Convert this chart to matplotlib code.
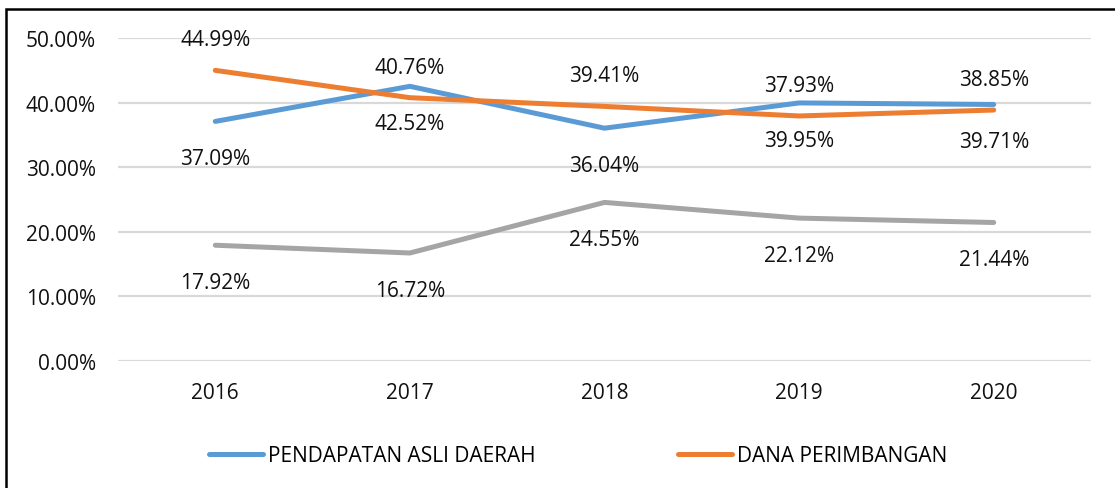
import matplotlib.pyplot as plt
from matplotlib.patches import Rectangle
from matplotlib.ticker import FixedLocator, PercentFormatter

plt.rcParams["font.family"] = ["Open Sans", "DejaVu Sans"]

years = ["2016", "2017", "2018", "2019", "2020"]
pad = [37.09, 42.52, 36.04, 39.95, 39.71]      # PENDAPATAN ASLI DAERAH
dana = [44.99, 40.76, 39.41, 37.93, 38.85]     # DANA PERIMBANGAN
lain = [17.92, 16.72, 24.55, 22.12, 21.44]     # lain-lain pendapatan
yticks = [0, 10, 20, 30, 40, 50]

fig = plt.figure(figsize=(11.15, 4.89), dpi=100)
ax = fig.add_axes([118 / 1115, 1 - 362 / 489, (1091 - 118) / 1115, (362 - 39) / 489])

x = list(range(len(years)))
series = [
    (pad, "#5B9BD5", "PENDAPATAN ASLI DAERAH", -1),
    (dana, "#ED7D31", "DANA PERIMBANGAN", 1),
    (lain, "#A5A5A5", None, -1),
]
handles = []
for vals, color, name, side in series:
    ln, = ax.plot(x, vals, color=color, lw=3.6, solid_capstyle="round", zorder=3)
    if name:
        ln.set_label(name)
        handles.append(ln)
    for xi, v in zip(x, vals):
        ax.annotate(f"{v:.2f}%", (xi, v), xytext=(0, 24.5 * side - 2.5), textcoords="offset points",
                    ha="center", va="center", fontsize=15, color="#111111")

ax.set_xlim(-0.5, len(years) - 0.5)
ax.set_ylim(0, 50)
ax.set_xticks(x)
ax.set_xticklabels(years)
ax.yaxis.set_major_locator(FixedLocator(yticks))
ax.yaxis.set_major_formatter(PercentFormatter(decimals=2))
ax.tick_params(axis="both", length=0, labelsize=15, colors="#111111")
ax.tick_params(axis="x", pad=15)
ax.tick_params(axis="y", pad=16)
ax.grid(axis="y", color="#D9D9D9", lw=1.6)
ax.set_axisbelow(True)
for s in ax.spines.values():
    s.set_visible(False)

fig.legend(handles=handles, loc="center", bbox_to_anchor=(578 / 1115, 1 - 457 / 489),
           ncol=2, frameon=False, fontsize=15, handlelength=2.6, handletextpad=0.25,
           columnspacing=6.8)

# chart frame (runs off the right and bottom edge)
fig.patches.append(Rectangle((6 / 1115, -0.1), 1.2, 1 - 10 / 489 + 0.1, transform=fig.transFigure,
                             fill=False, ec="black", lw=1.8))

fig.savefig("out.png", dpi=100)
